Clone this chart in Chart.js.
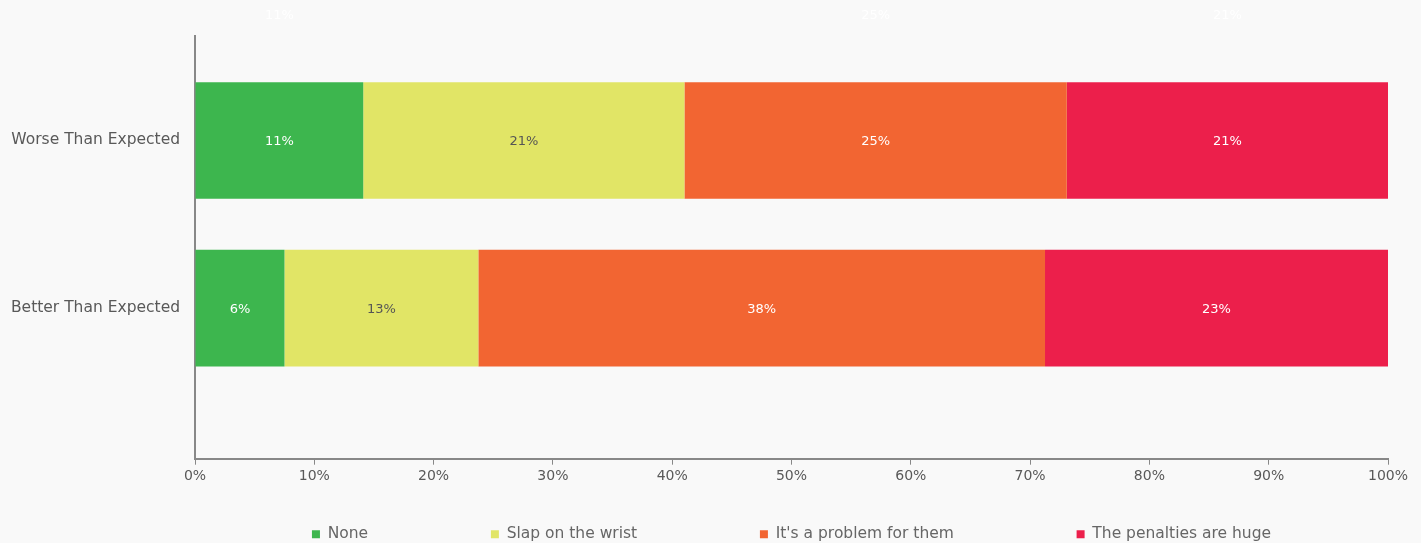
<!DOCTYPE html>
<html>
<head>
<meta charset="utf-8">
<script src="https://cdn.jsdelivr.net/npm/chart.js@4/dist/chart.umd.min.js"></script>
<style>
  html, body { margin: 0; padding: 0; background: #f9f9f9; }
  #wrap { width: 1421px; height: 543px; position: relative; }
</style>
</head>
<body>
<div id="wrap"><canvas id="c" width="1421" height="543"></canvas></div>
<script>
// ---- data (raw percentages shown in labels) ----
const categories = ['Worse Than Expected', 'Better Than Expected'];
const seriesNames = ['None', 'Slap on the wrist', "It's a problem for them", 'The penalties are huge'];
const none      = [11, 6];
const slap      = [21, 13];
const problem   = [25, 38];
const penalties = [21, 23];
const xTicks = ['0%', '10%', '20%', '30%', '40%', '50%', '60%', '70%', '80%', '90%', '100%'];

const colors = ['#3db64e', '#e1e566', '#f26532', '#ec1f4b'];
const labelColors = ['#ffffff', '#555555', '#ffffff', '#ffffff'];
const raw = [none, slap, problem, penalties];
const totals = categories.map((_, i) => raw.reduce((s, a) => s + a[i], 0));

const datasets = raw.map((arr, k) => ({
  label: seriesNames[k],
  data: arr.map((v, i) => ({ x: v / totals[i] * 100, y: i })),
  rawValues: arr,
  backgroundColor: colors[k],
  borderWidth: 0,
  barPercentage: 0.695,
  categoryPercentage: 1.0
}));

const FONT = '"DejaVu Sans", sans-serif';
const LEGEND_FONT_SIZE = 15.5;
const LEGEND_PAD = 39;
const LEGEND_GAP = 125;

const valueLabels = {
  id: 'valueLabels',
  afterDatasetsDraw(chart) {
    const ctx = chart.ctx;
    ctx.save();
    ctx.font = '13px ' + FONT;
    ctx.textAlign = 'center';
    ctx.textBaseline = 'middle';
    chart.data.datasets.forEach((ds, k) => {
      const meta = chart.getDatasetMeta(k);
      if (meta.hidden) return;
      meta.data.forEach((el, i) => {
        const cx = (el.x + el.base) / 2;
        ctx.fillStyle = labelColors[k];
        ctx.fillText(ds.rawValues[i] + '%', cx, el.y + 1);
        // faint duplicate of the first row's white labels at the top edge
        if (i === 0 && labelColors[k] === '#ffffff') {
          ctx.fillText(ds.rawValues[i] + '%', cx, 16);
        }
      });
    });
    ctx.restore();
  }
};

const bgPlugin = {
  id: 'bg',
  beforeDraw(chart) {
    const ctx = chart.ctx;
    ctx.save();
    ctx.fillStyle = '#f9f9f9';
    ctx.fillRect(0, 0, chart.width, chart.height);
    ctx.restore();
  }
};

new Chart(document.getElementById('c'), {
  type: 'bar',
  data: { datasets },
  options: {
    indexAxis: 'y',
    responsive: false,
    animation: false,
    events: [],
    layout: { padding: { top: 36, right: 33, left: 0, bottom: -9 } },
    scales: {
      x: {
        type: 'linear',
        stacked: true,
        min: 0, max: 100,
        grid: { display: true, drawOnChartArea: false, drawTicks: true, tickLength: 6, color: '#888888' },
        border: { display: true, color: '#888888', width: 2 },
        ticks: {
          stepSize: 10,
          color: '#595959',
          font: { family: FONT, size: 14 },
          padding: 3,
          callback: (v) => xTicks[Math.round(v / 10)]
        }
      },
      y: {
        type: 'linear',
        stacked: true,
        reverse: true,
        offset: false,
        bounds: 'data',
        min: -0.623, max: 1.898,
        afterBuildTicks: (s) => { s.ticks = categories.map((_, i) => ({ value: i })); },
        afterFit: (s) => { s.width = 195; },
        grid: { display: false, offset: false },
        border: { display: true, color: '#888888', width: 2 },
        ticks: {
          color: '#595959',
          font: { family: FONT, size: 15.5 },
          padding: 7,
          callback: (v) => {
            const r = Math.round(v);
            return categories[r] !== undefined ? categories[r] : '';
          }
        }
      }
    },
    plugins: {
      legend: {
        position: 'bottom',
        fullSize: false,
        labels: {
          boxWidth: 8, boxHeight: 8,
          padding: LEGEND_PAD,
          color: '#666666',
          font: { family: FONT, size: LEGEND_FONT_SIZE },
          generateLabels(chart) {
            const items = Chart.defaults.plugins.legend.labels.generateLabels(chart);
            const ctx = chart.ctx;
            ctx.save();
            ctx.font = LEGEND_FONT_SIZE + 'px ' + FONT;
            const sw = ctx.measureText(' ').width;
            ctx.restore();
            const n = Math.max(0, Math.round((LEGEND_GAP - LEGEND_PAD) / sw));
            items.forEach((it, i) => {
              if (i < items.length - 1) it.text = it.text + ' '.repeat(n);
            });
            return items;
          }
        }
      },
      tooltip: { enabled: false }
    }
  },
  plugins: [bgPlugin, valueLabels]
});
</script>
</body>
</html>
